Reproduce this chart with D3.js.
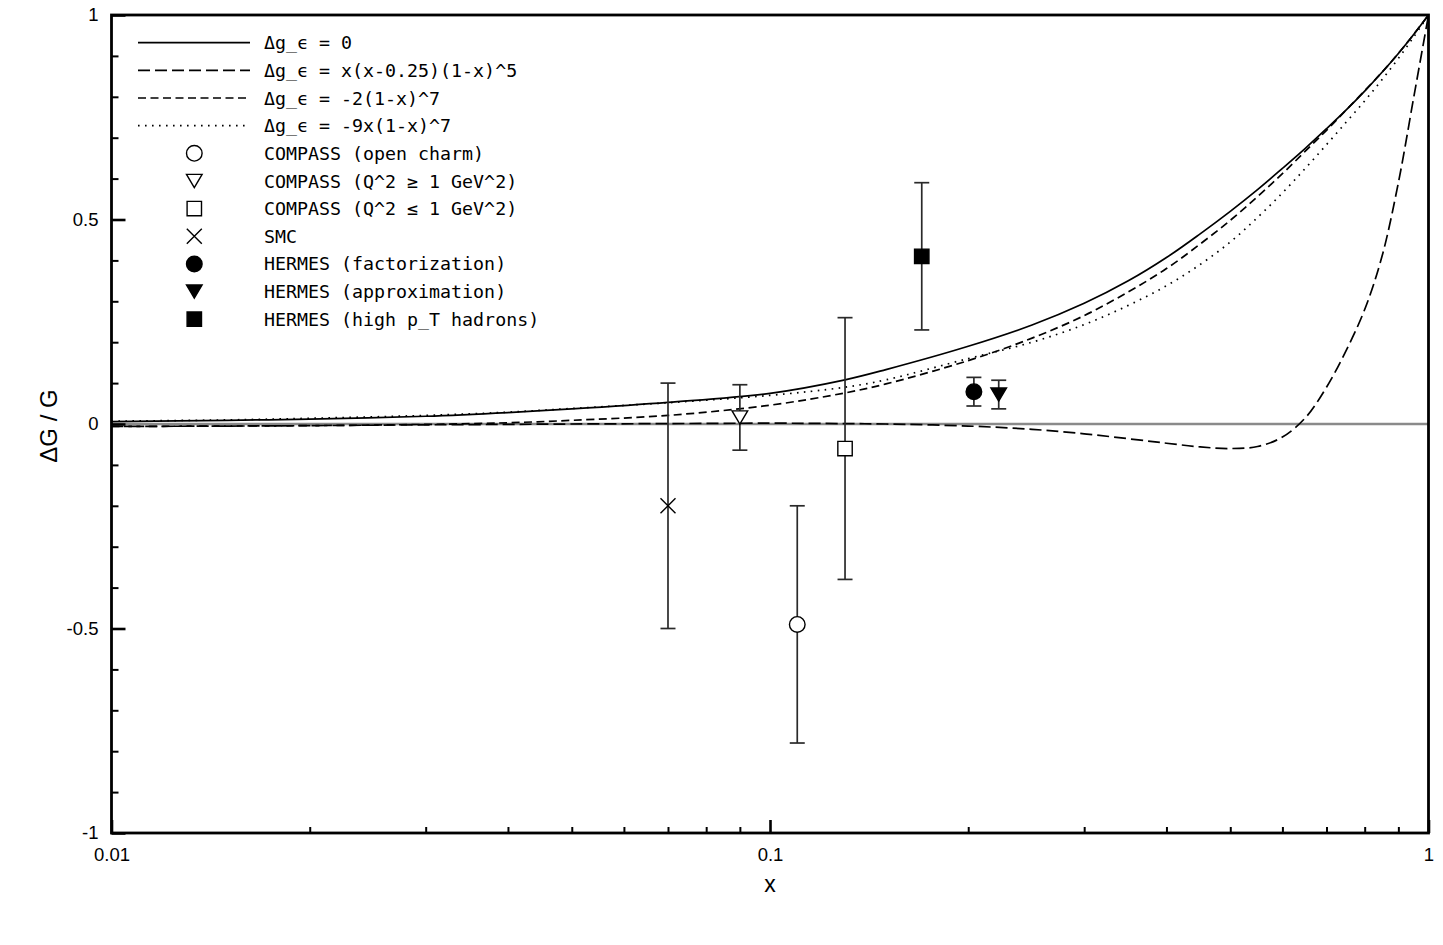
<!DOCTYPE html>
<html>
<head>
<meta charset="utf-8">
<script src="https://cdn.jsdelivr.net/npm/d3@7"></script>
<style>
  html, body { margin: 0; padding: 0; background: #fff; }
  svg { display: block; }
</style>
</head>
<body>
<svg id="chart" width="1443" height="945"></svg>
<script>
// ---------------- data ----------------
const xGrid = [0.01, 0.015, 0.02, 0.03, 0.04, 0.05, 0.07, 0.1, 0.13, 0.15, 0.2, 0.25, 0.3, 0.35,
               0.4, 0.45, 0.5, 0.55, 0.6, 0.65, 0.7, 0.75, 0.8, 0.85, 0.9, 0.95, 1.0];
const curveZero   = [0.006, 0.009, 0.012, 0.019, 0.028, 0.037, 0.053, 0.075, 0.108, 0.133, 0.19, 0.242, 0.295, 0.35,
                     0.407, 0.465, 0.52, 0.573, 0.625, 0.674, 0.722, 0.768, 0.814, 0.86, 0.906, 0.953, 1.0];
const curveQuad   = [-0.006, -0.005, -0.004, -0.002, -0.001, 0.0, 0.001, 0.002, 0.001, 0.0, -0.005, -0.013, -0.024, -0.036,
                     -0.047, -0.056, -0.06, -0.055, -0.032, 0.015, 0.09, 0.18, 0.28, 0.41, 0.59, 0.8, 1.0];
const curveSeven  = [-0.006, -0.005, -0.004, -0.001, 0.003, 0.009, 0.021, 0.046, 0.076, 0.098, 0.155, 0.21, 0.265, 0.323,
                     0.38, 0.44, 0.498, 0.556, 0.612, 0.667, 0.718, 0.768, 0.815, 0.86, 0.906, 0.953, 1.0];
const curveNine   = [0.007, 0.01, 0.014, 0.021, 0.029, 0.038, 0.052, 0.07, 0.09, 0.108, 0.16, 0.2, 0.243, 0.29,
                     0.338, 0.39, 0.445, 0.505, 0.565, 0.625, 0.683, 0.738, 0.79, 0.842, 0.894, 0.947, 1.0];
const curveLabels = ["\u0394g_\u03F5 = 0", "\u0394g_\u03F5 = x(x-0.25)(1-x)^5",
                     "\u0394g_\u03F5 = -2(1-x)^7", "\u0394g_\u03F5 = -9x(1-x)^7"];

const expLabels = ["COMPASS (open charm)", "COMPASS (Q^2 \u2265 1 GeV^2)", "COMPASS (Q^2 \u2264 1 GeV^2)",
                   "SMC", "HERMES (factorization)", "HERMES (approximation)", "HERMES (high p_T hadrons)"];
const expX   = [0.110, 0.090, 0.130, 0.070, 0.204, 0.2225, 0.170];
const expY   = [-0.49, 0.016, -0.06, -0.20, 0.079, 0.072, 0.41];
const expErr = [0.29, 0.08, 0.32, 0.30, 0.035, 0.035, 0.18];
const expShape = ["circle", "triDown", "square", "cross", "circle", "triDown", "square"];
const expFilled = [false, false, false, false, true, true, true];

const xMajorTicks = [0.01, 0.1, 1];
const xMajorLabels = ["0.01", "0.1", "1"];
const xMinorTicks = [0.02, 0.03, 0.04, 0.05, 0.06, 0.07, 0.08, 0.09, 0.2, 0.3, 0.4, 0.5, 0.6, 0.7, 0.8, 0.9];
const yMajorTicks = [-1, -0.5, 0, 0.5, 1];
const yMajorLabels = ["-1", "-0.5", "0", "0.5", "1"];
const yMinorTicks = [-0.9, -0.8, -0.7, -0.6, -0.4, -0.3, -0.2, -0.1, 0.1, 0.2, 0.3, 0.4, 0.6, 0.7, 0.8, 0.9];

// ---------------- layout ----------------
const L = 111.5, R = 1428.5, T = 15, B = 833;
const svg = d3.select("#chart");
const x = d3.scaleLog().domain([0.01, 1]).range([L, R]);
const y = d3.scaleLinear().domain([-1, 1]).range([B, T]);
const sansFont = "'Liberation Sans', Arial, Helvetica, sans-serif";
const monoFont = "'DejaVu Sans Mono', 'Liberation Mono', monospace";

// zero line
svg.append("line")
  .attr("x1", x(0.01)).attr("x2", x(1))
  .attr("y1", y(0)).attr("y2", y(0))
  .attr("stroke", "#8a8a8a").attr("stroke-width", 2.6);

// curves
const curveDefs = [
  { vals: curveZero,  dash: null },
  { vals: curveQuad,  dash: "12,5" },
  { vals: curveSeven, dash: "8,4.5" },
  { vals: curveNine,  dash: "1.6,5.4" }
];
const line = d3.line().x(d => x(d[0])).y(d => y(d[1])).curve(d3.curveCatmullRom.alpha(0.5));
svg.append("clipPath").attr("id", "clip").append("rect")
  .attr("x", L).attr("y", T - 1).attr("width", R - L).attr("height", B - T + 2);
curveDefs.forEach(c => {
  svg.append("path")
    .attr("clip-path", "url(#clip)")
    .attr("d", line(xGrid.map((xv, i) => [xv, c.vals[i]])))
    .attr("fill", "none").attr("stroke", "#000").attr("stroke-width", 1.7)
    .attr("stroke-dasharray", c.dash);
});

// markers
function markerPath(shape) {
  if (shape === "circle") return d3.symbol(d3.symbolCircle, Math.PI * 7.8 * 7.8)();
  if (shape === "square") return "M-7.2,-7.2H7.2V7.2H-7.2Z";
  if (shape === "triDown") return "M-7.8,-6.6H7.8L0,6.6Z";
  if (shape === "cross") return "M-7.5,-7.5L7.5,7.5M-7.5,7.5L7.5,-7.5";
}
function drawMarker(g, shape, filled) {
  g.append("path").attr("d", markerPath(shape))
    .attr("fill", shape === "cross" ? "none" : (filled ? "#000" : "#fff"))
    .attr("stroke", "#000").attr("stroke-width", 1.4);
}

// error bars + points
const capW = 7.5;
expX.forEach((xv, i) => {
  const g = svg.append("g");
  const px = x(xv);
  const y1 = y(expY[i] + expErr[i]), y2 = y(expY[i] - expErr[i]);
  g.append("line").attr("x1", px).attr("x2", px).attr("y1", y1).attr("y2", y2)
    .attr("stroke", "#2a2a2a").attr("stroke-width", 1.7);
  [y1, y2].forEach(yy => g.append("line")
    .attr("x1", px - capW).attr("x2", px + capW).attr("y1", yy).attr("y2", yy)
    .attr("stroke", "#2a2a2a").attr("stroke-width", 1.7));
  const m = svg.append("g").attr("transform", `translate(${px},${y(expY[i])})`);
  drawMarker(m, expShape[i], expFilled[i]);
});

// frame
svg.append("rect").attr("x", L).attr("y", T).attr("width", R - L).attr("height", B - T)
  .attr("fill", "none").attr("stroke", "#000").attr("stroke-width", 2.8);

// axes (ticks inward)
const xAxisMajor = d3.axisBottom(x).tickValues(xMajorTicks)
  .tickFormat((d, i) => xMajorLabels[i]).tickSize(-13).tickPadding(15);
const xAxisMinor = d3.axisBottom(x).tickValues(xMinorTicks).tickFormat("").tickSize(-6);
const yAxisMajor = d3.axisLeft(y).tickValues(yMajorTicks)
  .tickFormat((d, i) => yMajorLabels[i]).tickSize(-14).tickPadding(13);
const yAxisMinor = d3.axisLeft(y).tickValues(yMinorTicks).tickFormat("").tickSize(-7);

function styleAxis(g) {
  g.select(".domain").remove();
  g.selectAll(".tick line").attr("stroke", "#000").attr("stroke-width", 2);
  g.selectAll(".tick text").attr("fill", "#000")
    .style("font-family", sansFont).style("font-size", "18.5px");
}
svg.append("g").attr("transform", `translate(0,${B})`).call(xAxisMinor).call(styleAxis);
svg.append("g").attr("transform", `translate(0,${B})`).call(xAxisMajor).call(styleAxis)
  .selectAll(".tick line").attr("stroke-width", 2.6);
svg.append("g").attr("transform", `translate(${L},0)`).call(yAxisMinor).call(styleAxis);
svg.append("g").attr("transform", `translate(${L},0)`).call(yAxisMajor).call(styleAxis)
  .selectAll(".tick line").attr("stroke-width", 2.6);

// axis titles
svg.append("text").attr("x", (L + R) / 2).attr("y", 892).attr("text-anchor", "middle")
  .style("font-family", sansFont).style("font-size", "23px").text("x");
svg.append("text").attr("transform", `translate(57,${(T + B) / 2 + 2}) rotate(-90)`)
  .attr("text-anchor", "middle")
  .style("font-family", sansFont).style("font-size", "24px").text("\u0394G / G");

// legend
const legX1 = 138, legX2 = 250, legText = 264, legY0 = 42.7, legDy = 27.65, legMarkX = 194.3;
curveDefs.forEach((c, i) => {
  const yy = legY0 + i * legDy;
  svg.append("line").attr("x1", legX1).attr("x2", legX2).attr("y1", yy).attr("y2", yy)
    .attr("stroke", "#000").attr("stroke-width", 1.7).attr("stroke-dasharray", c.dash);
  svg.append("text").attr("x", legText).attr("y", yy).attr("dy", "0.36em")
    .style("font-family", monoFont).style("font-size", "18.3px").text(curveLabels[i]);
});
expLabels.forEach((lab, i) => {
  const yy = legY0 + (i + 4) * legDy;
  const m = svg.append("g").attr("transform", `translate(${legMarkX},${yy})`);
  drawMarker(m, expShape[i], expFilled[i]);
  svg.append("text").attr("x", legText).attr("y", yy).attr("dy", "0.36em")
    .style("font-family", monoFont).style("font-size", "18.3px").text(lab);
});
</script>
</body>
</html>
